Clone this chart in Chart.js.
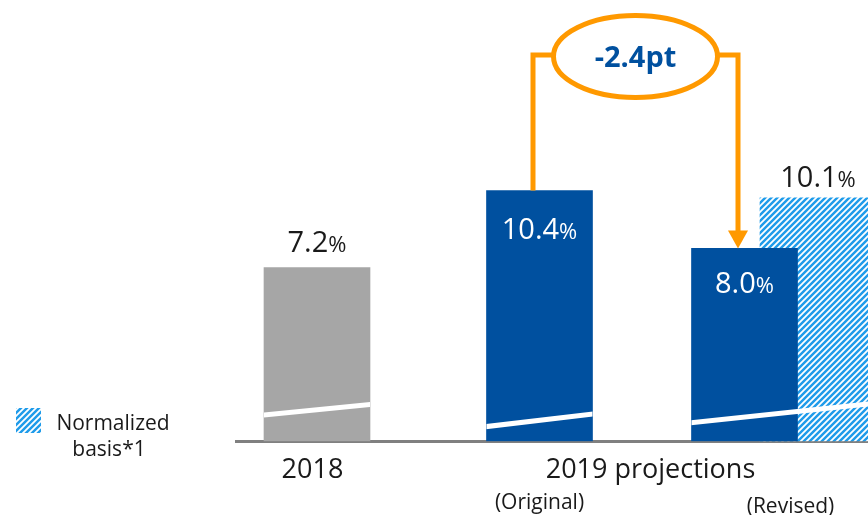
<!DOCTYPE html>
<html>
<head>
<meta charset="utf-8">
<script src="https://cdn.jsdelivr.net/npm/chart.js@4.4.1/dist/chart.umd.min.js"></script>
<style>
  body { margin: 0; background: #fff; }
  #wrap { width: 868px; height: 515px; }
</style>
</head>
<body>
<div id="wrap"><canvas id="chart" width="868" height="515"></canvas></div>
<script>
// data
const years = [2018, 2019];
const categories = ['2018', '2019 projections'];
const original = [7.2, 10.4];   // 2018 actual, 2019 original projection
const revised = [null, 8.0];
const normalized = [null, 10.1];
const subLabels = ['(Original)', '(Revised)'];
const diffLabel = '-2.4pt';
const legendLines = ['Normalized', 'basis*1'];

const FONT = '"Open Sans", "Noto Sans", sans-serif';
const BLUE = '#00509F';
const GRAY = '#A6A6A6';
const ORANGE = '#FF9900';
const TEXT = '#1A1A1A';

// plot area spans x 236..868; each series gets its own (hidden) year axis
// so that the three bars of 2019 can sit side by side like in the slide
const LEFT = 236, RIGHT = 868;
function yearAxis(px2019, pxPerYear, extra) {
  return Object.assign({
    type: 'linear',
    offset: false,
    display: false,
    min: 2019 - (px2019 - LEFT) / pxPerYear,
    max: 2019 + (RIGHT - px2019) / pxPerYear,
    afterBuildTicks: (scale) => { scale.ticks = years.map(v => ({ value: v })); }
  }, extra || {});
}

const canvas = document.getElementById('chart');
const ctx = canvas.getContext('2d');

function hatchPattern() {
  const c = document.createElement('canvas');
  c.width = 6; c.height = 6;
  const g = c.getContext('2d');
  g.fillStyle = '#1E9BEA';
  g.fillRect(0, 0, 6, 6);
  g.strokeStyle = '#fff';
  g.lineWidth = 1.8;
  g.beginPath();
  g.moveTo(-1, 7); g.lineTo(7, -1);
  g.moveTo(-1, 1); g.lineTo(1, -1);
  g.moveTo(5, 7); g.lineTo(7, 5);
  g.stroke();
  return ctx.createPattern(c, 'repeat');
}
const hatch = hatchPattern();

// number big, % a bit smaller, sharing a baseline
function drawPct(c, value, cx, baseline, color) {
  const num = value.toFixed(1);
  c.save();
  c.fillStyle = color;
  c.textBaseline = 'alphabetic';
  c.textAlign = 'left';
  c.font = '29px ' + FONT;
  const w1 = c.measureText(num).width;
  c.font = '22px ' + FONT;
  const w2 = c.measureText('%').width;
  const x0 = cx - (w1 + w2) / 2;
  c.font = '29px ' + FONT;
  c.fillText(num, x0, baseline);
  c.font = '22px ' + FONT;
  c.fillText('%', x0 + w1, baseline);
  c.restore();
}

// white slanted "axis break" strokes near the bottom of the bars
function breakLine(c, x1, x2, base, rise1, rise2) {
  c.save();
  c.beginPath();
  c.rect(x1, 0, x2 - x1, base);
  c.clip();
  c.strokeStyle = '#fff';
  c.lineWidth = 5;
  c.beginPath();
  c.moveTo(x1 - 2, base - rise1);
  c.lineTo(x2 + 2, base - rise2);
  c.stroke();
  c.restore();
}

const decorations = {
  id: 'decorations',
  afterDatasetsDraw(chart) {
    const c = chart.ctx;
    const main = chart.getDatasetMeta(0).data;
    const rev = chart.getDatasetMeta(1).data[1];
    const norm = chart.getDatasetMeta(2).data[1];
    const gray = main[0], orig = main[1];

    breakLine(c, gray.x - gray.width / 2, gray.x + gray.width / 2, gray.base, 26, 37);
    breakLine(c, orig.x - orig.width / 2, orig.x + orig.width / 2, orig.base, 14.5, 27.5);
    breakLine(c, rev.x - rev.width / 2, chart.chartArea.right, rev.base, 18.5, 37.5);

    // value labels
    drawPct(c, original[0], gray.x, gray.y - 16, TEXT);
    drawPct(c, original[1], orig.x, orig.y + 48, '#fff');
    drawPct(c, revised[1], rev.x, rev.y + 45, '#fff');
    drawPct(c, normalized[1], norm.x, norm.y - 11, TEXT);
  },
  afterDraw(chart) {
    const c = chart.ctx;
    const orig = chart.getDatasetMeta(0).data[1];
    const rev = chart.getDatasetMeta(1).data[1];

    // bracket with ellipse and arrow
    const xL = orig.x - 6.5, xR = rev.x - 6.5, yTop = 55;
    const ex = (xL + xR) / 2, ey = 56.5, rx = 82, ry = 41;
    c.save();
    c.strokeStyle = ORANGE;
    c.lineWidth = 5;
    c.beginPath();
    c.moveTo(xL, orig.y);
    c.lineTo(xL, yTop);
    c.lineTo(ex - rx, yTop);
    c.moveTo(ex + rx, yTop);
    c.lineTo(xR, yTop);
    c.lineTo(xR, rev.y - 17);
    c.stroke();
    c.beginPath();
    c.ellipse(ex, ey, rx, ry, 0, 0, Math.PI * 2);
    c.fillStyle = '#fff';
    c.fill();
    c.stroke();
    c.fillStyle = ORANGE;
    c.beginPath();
    c.moveTo(xR - 10, rev.y - 18);
    c.lineTo(xR + 10, rev.y - 18);
    c.lineTo(xR, rev.y);
    c.closePath();
    c.fill();

    c.fillStyle = BLUE;
    c.font = 'bold 29px ' + FONT;
    c.textAlign = 'center';
    c.textBaseline = 'alphabetic';
    c.fillText(diffLabel, ex, 67);

    // sub labels under the 2019 bars
    c.fillStyle = TEXT;
    c.font = '21px ' + FONT;
    c.fillText(subLabels[0], orig.x, 509);
    c.fillText(subLabels[1], rev.x + 46, 513);

    // legend
    c.fillStyle = hatch;
    c.fillRect(16, 408, 25, 25);
    c.fillStyle = TEXT;
    c.font = '21px ' + FONT;
    c.fillText(legendLines[0], 113, 430);
    c.fillText(legendLines[1], 109, 456);
    c.restore();
  }
};

new Chart(ctx, {
  type: 'bar',
  data: {
    labels: years,
    datasets: [
      {
        label: 'Actual / Original',
        data: original,
        backgroundColor: [GRAY, BLUE],
        xAxisID: 'x',
        grouped: false,
        maxBarThickness: 106,
        barPercentage: 1,
        categoryPercentage: 1
      },
      {
        label: 'Revised',
        data: revised,
        backgroundColor: BLUE,
        xAxisID: 'xr',
        grouped: false,
        maxBarThickness: 106,
        barPercentage: 1,
        categoryPercentage: 1
      },
      {
        label: 'Normalized basis',
        data: normalized,
        backgroundColor: hatch,
        xAxisID: 'xh',
        grouped: false,
        maxBarThickness: 116,
        barPercentage: 1,
        categoryPercentage: 1
      }
    ]
  },
  options: {
    responsive: false,
    animation: false,
    layout: { padding: { left: LEFT, right: 0, top: 0, bottom: 15.3 } },
    plugins: { legend: { display: false }, tooltip: { enabled: false } },
    scales: {
      x: yearAxis(539.5, 222.5),
      xr: yearAxis(744.5, 222.5),
      xh: yearAxis(818, 222.5),
      // visible axis: baseline and the two category names
      xl: yearAxis(650.5, 338, {
        display: true,
        z: 1,
        grid: { display: false, drawTicks: false },
        border: { display: true, color: '#808080', width: 3 },
        ticks: {
          padding: 13,
          color: TEXT,
          font: { size: 27, family: FONT },
          maxRotation: 0,
          autoSkip: false,
          callback: (v) => categories[years.indexOf(v)]
        }
      }),
      y: {
        display: false,
        min: 0,
        max: 18.3
      }
    }
  },
  plugins: [decorations]
});
</script>
</body>
</html>
